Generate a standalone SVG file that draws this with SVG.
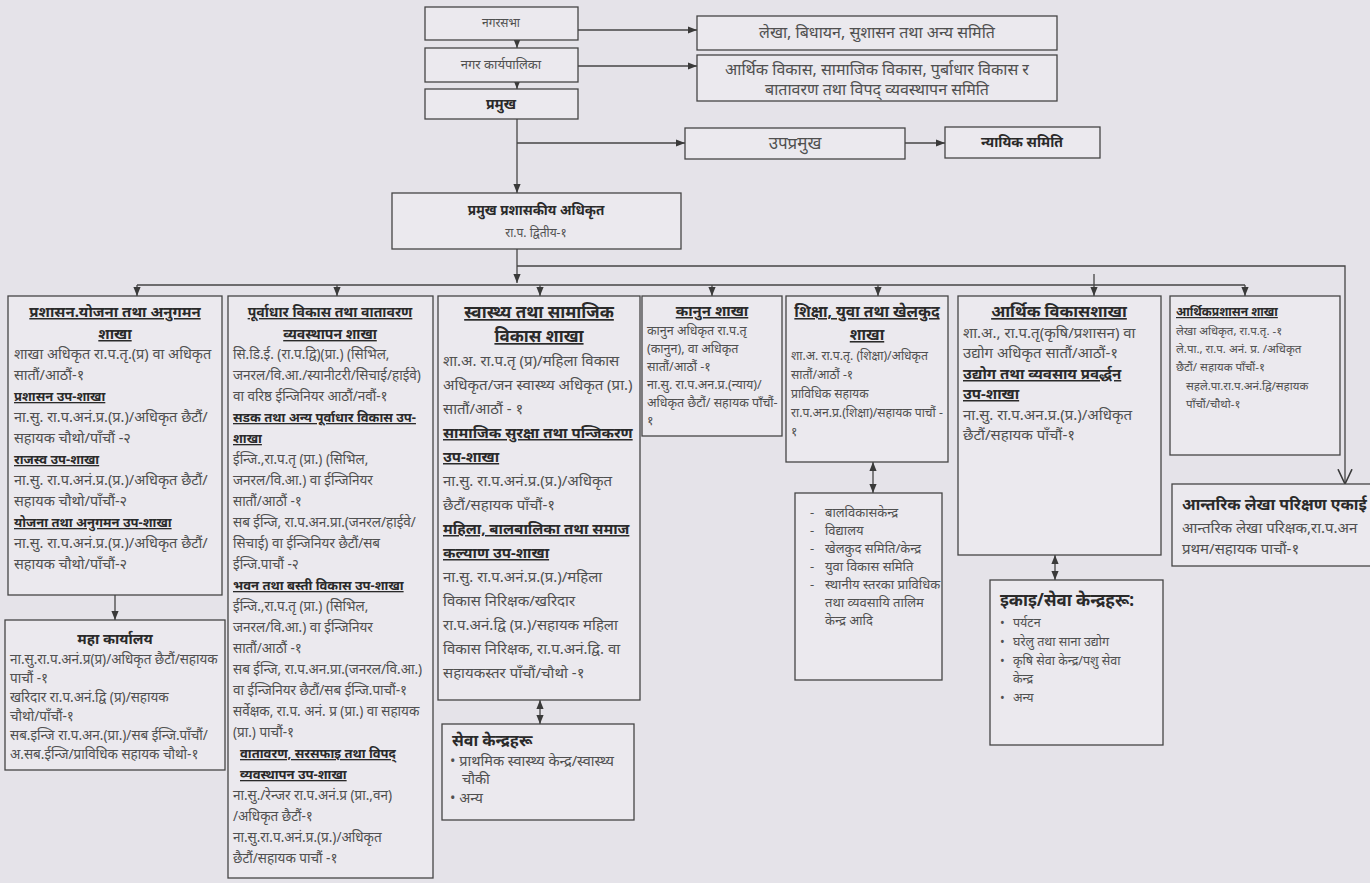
<svg xmlns="http://www.w3.org/2000/svg" width="1370" height="883" viewBox="0 0 1370 883">
<defs>
<marker id="ah" viewBox="0 0 10 10" refX="10" refY="5" markerWidth="7" markerHeight="7" orient="auto-start-reverse"><path d="M0,1 L10,5 L0,9 z" fill="#3a3a3a"/></marker>
<marker id="av" viewBox="0 0 10 10" refX="9.5" refY="5" markerWidth="12" markerHeight="12" orient="auto"><path d="M0,0.5 L9.5,5 L0,9.5" fill="none" stroke="#3a3a3a" stroke-width="1"/></marker>
</defs>
<style>
.bx{fill:#ebe9ee;stroke:#454545;stroke-width:1.3}
.ln{fill:none;stroke:#454545;stroke-width:1.3}
text{font-family:'Noto Sans','Liberation Sans',sans-serif;fill:#505050;font-size:11.5px}
.c{text-anchor:middle}
.ti{font-weight:bold;font-size:15px;fill:#2a2a2a;text-decoration:underline}
.sh{font-weight:bold;fill:#2a2a2a;text-decoration:underline}
.hb{font-weight:bold;fill:#2a2a2a}
.top{font-size:16px}
#b1 text{font-size:14.5px}
#b1 .ti{font-size:15px}
#b1 .sh{font-size:13px}
#maha text{font-size:13.5px}
#maha .hb{font-size:14.5px}
#b2 text{font-size:13.5px}
#b2 .ti{font-size:14px}
#b2 .sh{font-size:13px}
#b3 text{font-size:15px}
#b3 .ti{font-size:17px}
#b3s text{font-size:14.5px}
#b3s .hb{font-size:16px}
#b4 text{font-size:12.5px}
#b4 .ti{font-size:15px}
#b5 text{font-size:12.2px}
#b5 .ti{font-size:15.5px}
#b5s text{font-size:13px}
#b6 text{font-size:15px}
#b6 .ti{font-size:16.5px}
#b6s text{font-size:12.5px}
#b6s .hb{font-size:17px}
#b7 text{font-size:11.5px}
#b7 .sh{font-size:12px}
#audit text{font-size:15px}
#audit .hb{font-size:16px}
</style>
<rect width="1370" height="883" fill="#e5e3e9"/>

<g id="connectors">
<path class="ln" d="M517,40 V48" marker-end="url(#ah)"/>
<path class="ln" d="M517,82 V89" marker-end="url(#ah)"/>
<path class="ln" d="M578,30 H697" marker-end="url(#ah)"/>
<path class="ln" d="M578,66 H697" marker-end="url(#ah)"/>
<path class="ln" d="M517,119 V193" marker-end="url(#ah)"/>
<path class="ln" d="M517,143 H685" marker-end="url(#ah)"/>
<path class="ln" d="M905,143 H945" marker-end="url(#ah)"/>
<path class="ln" d="M517,249 V283" marker-end="url(#ah)"/>
<path class="ln" d="M517,266 H1345 V484" marker-end="url(#av)"/>
<path class="ln" d="M137,285 H1245"/>
<path class="ln" d="M137,285 V296" marker-end="url(#ah)"/>
<path class="ln" d="M337,285 V296" marker-end="url(#ah)"/>
<path class="ln" d="M540,285 V296" marker-end="url(#ah)"/>
<path class="ln" d="M712,285 V296" marker-end="url(#ah)"/>
<path class="ln" d="M878,285 V296" marker-end="url(#ah)"/>
<path class="ln" d="M1094,274 V296" marker-end="url(#ah)"/>
<path class="ln" d="M1245,285 V296" marker-end="url(#ah)"/>
<path class="ln" d="M115,595 V620" marker-end="url(#ah)"/>
<path class="ln" d="M540,700 V724" marker-start="url(#ah)" marker-end="url(#ah)"/>
<path class="ln" d="M873,462 V493" marker-start="url(#ah)" marker-end="url(#ah)"/>
<path class="ln" d="M1055,555 V580" marker-start="url(#ah)" marker-end="url(#ah)"/>
</g>

<g id="nagarsabha">
<rect class="bx" x="425" y="7" width="153" height="33"/>
<text class="c" x="501" y="27" style="font-size:12px">नगरसभा</text>
</g>
<g id="karyapalika">
<rect class="bx" x="425" y="48" width="153" height="34"/>
<text class="c" x="501" y="69" style="font-size:13px">नगर कार्यपालिका</text>
</g>
<g id="pramukh">
<rect class="bx" x="425" y="89" width="153" height="30"/>
<text class="c hb" x="501" y="109" style="font-size:14px">प्रमुख</text>
</g>
<g id="samiti1">
<rect class="bx" x="697" y="16" width="360" height="34"/>
<text class="c top" x="877" y="38">लेखा, बिधायन, सुशासन तथा अन्य समिति</text>
</g>
<g id="samiti2">
<rect class="bx" x="697" y="55" width="360" height="46"/>
<text class="c top" x="877" y="75">आर्थिक विकास, सामाजिक विकास, पुर्बाधार विकास र</text>
<text class="c top" x="877" y="95">बातावरण तथा विपद् व्यवस्थापन समिति</text>
</g>
<g id="upapramukh">
<rect class="bx" x="685" y="128" width="220" height="31"/>
<text class="c" x="795" y="149" style="font-size:17px">उपप्रमुख</text>
</g>
<g id="nyayik">
<rect class="bx" x="945" y="127" width="155" height="31"/>
<text class="c hb" x="1022" y="147" style="font-size:14px">न्यायिक समिति</text>
</g>
<g id="cao">
<rect class="bx" x="392" y="193" width="289" height="56"/>
<text class="c hb" x="536" y="215" style="font-size:13.5px">प्रमुख प्रशासकीय अधिकृत</text>
<text class="c" x="536" y="237" style="font-size:12px">रा.प. द्वितीय-१</text>
</g>

<g id="b1">
<rect class="bx" x="8" y="296" width="214" height="299"/>
<text class="c ti" x="115" y="317">प्रशासन.योजना तथा अनुगमन</text>
<text class="c ti" x="115" y="339">शाखा</text>
<text x="14" y="359">शाखा अधिकृत रा.प.तृ.(प्र) वा अधिकृत</text>
<text x="14" y="380">सातौं/आठौं-१</text>
<text class="sh" x="14" y="401">प्रशासन उप-शाखा</text>
<text x="14" y="422">ना.सु. रा.प.अनं.प्र.(प्र.)/अधिकृत छैटौं/</text>
<text x="14" y="443">सहायक चौथो/पाँचौं -२</text>
<text class="sh" x="14" y="464">राजस्व उप-शाखा</text>
<text x="14" y="485">ना.सु. रा.प.अनं.प्र.(प्र.)/अधिकृत छैटौं/</text>
<text x="14" y="506">सहायक चौथो/पाँचौं-२</text>
<text class="sh" x="14" y="527">योजना तथा अनुगमन उप-शाखा</text>
<text x="14" y="548">ना.सु. रा.प.अनं.प्र.(प्र.)/अधिकृत छैटौं/</text>
<text x="14" y="569">सहायक चौथो/पाँचौं-२</text>
</g>

<g id="maha">
<rect class="bx" x="5" y="620" width="220" height="150"/>
<text class="c hb" x="115" y="644">महा कार्यालय</text>
<text x="10" y="664">ना.सु.रा.प.अनं.प्र(प्र)/अधिकृत छैटौं/सहायक</text>
<text x="10" y="683">पाचौं -१</text>
<text x="10" y="702">खरिदार रा.प.अनं.द्वि (प्र)/सहायक</text>
<text x="10" y="721">चौथो/पाँचौं-१</text>
<text x="10" y="740">सब.इन्जि रा.प.अन.(प्रा.)/सब ईन्जि.पाँचौं/</text>
<text x="10" y="759">अ.सब.ईन्जि/प्राविधिक सहायक चौथो-१</text>
</g>

<g id="b2">
<rect class="bx" x="228" y="296" width="205" height="582"/>
<text class="c ti" x="330" y="317">पूर्वाधार विकास तथा वातावरण</text>
<text class="c ti" x="330" y="339">व्यवस्थापन शाखा</text>
<text x="233" y="359">सि.डि.ई. (रा.प.द्वि)(प्रा.) (सिभिल,</text>
<text x="233" y="380">जनरल/वि.आ./स्यानीटरी/सिचाई/हाईवे)</text>
<text x="233" y="401">वा वरिष्ठ ईन्जिनियर आठौं/नवौं-१</text>
<text class="sh" x="233" y="422">सडक तथा अन्य पूर्वाधार विकास उप-</text>
<text class="sh" x="233" y="443">शाखा</text>
<text x="233" y="464">ईन्जि.,रा.प.तृ (प्रा.) (सिभिल,</text>
<text x="233" y="485">जनरल/वि.आ.) वा ईन्जिनियर</text>
<text x="233" y="506">सातौं/आठौं -१</text>
<text x="233" y="527">सब ईन्जि, रा.प.अन.प्रा.(जनरल/हाईवे/</text>
<text x="233" y="548">सिचाई) वा ईन्जिनियर छैटौं/सब</text>
<text x="233" y="569">ईन्जि.पाचौं -२</text>
<text class="sh" x="233" y="590">भवन तथा बस्ती विकास उप-शाखा</text>
<text x="233" y="611">ईन्जि.,रा.प.तृ (प्रा.) (सिभिल,</text>
<text x="233" y="632">जनरल/वि.आ.) वा ईन्जिनियर</text>
<text x="233" y="653">सातौं/आठौं -१</text>
<text x="233" y="674">सब ईन्जि, रा.प.अन.प्रा.(जनरल/वि.आ.)</text>
<text x="233" y="695">वा ईन्जिनियर छैटौं/सब ईन्जि.पाचौं-१</text>
<text x="233" y="716">सर्वेक्षक, रा.प. अनं. प्र (प्रा.) वा सहायक</text>
<text x="233" y="737">(प्रा.) पाचौं-१</text>
<text class="sh" x="240" y="758">वातावरण, सरसफाइ तथा विपद्</text>
<text class="sh" x="240" y="779">व्यवस्थापन उप-शाखा</text>
<text x="233" y="800">ना.सु./रेन्जर रा.प.अनं.प्र (प्रा.,वन)</text>
<text x="233" y="821">/अधिकृत छैटौं-१</text>
<text x="233" y="842">ना.सु.रा.प.अनं.प्र.(प्र.)/अधिकृत</text>
<text x="233" y="863">छैटौं/सहायक पाचौं -१</text>
</g>

<g id="b3">
<rect class="bx" x="438" y="296" width="202" height="404"/>
<text class="c ti" x="539" y="318">स्वास्थ्य तथा सामाजिक</text>
<text class="c ti" x="539" y="342">विकास शाखा</text>
<text x="443" y="366">शा.अ. रा.प.तृ (प्र)/महिला विकास</text>
<text x="443" y="390">अधिकृत/जन स्वास्थ्य अधिकृत (प्रा.)</text>
<text x="443" y="414">सातौं/आठौं - १</text>
<text class="sh" x="443" y="438">सामाजिक सुरक्षा तथा पन्जिकरण</text>
<text class="sh" x="443" y="462">उप-शाखा</text>
<text x="443" y="486">ना.सु. रा.प.अनं.प्र.(प्र.)/अधिकृत</text>
<text x="443" y="510">छैटौं/सहायक पाँचौं-१</text>
<text class="sh" x="443" y="534">महिला, बालबालिका तथा समाज</text>
<text class="sh" x="443" y="558">कल्याण उप-शाखा</text>
<text x="443" y="582">ना.सु. रा.प.अनं.प्र.(प्र.)/महिला</text>
<text x="443" y="606">विकास निरिक्षक/खरिदार</text>
<text x="443" y="630">रा.प.अनं.द्वि (प्र.)/सहायक महिला</text>
<text x="443" y="654">विकास निरिक्षक, रा.प.अनं.द्वि. वा</text>
<text x="443" y="678">सहायकस्तर पाँचौं/चौथो -१</text>
</g>

<g id="b3s">
<rect class="bx" x="442" y="724" width="192" height="96"/>
<text class="hb" x="452" y="746">सेवा केन्द्रहरू</text>
<text x="450" y="766">• प्राथमिक स्वास्थ्य केन्द्र/स्वास्थ्य</text>
<text x="462" y="784">चौकी</text>
<text x="450" y="803">• अन्य</text>
</g>

<g id="b4">
<rect class="bx" x="642" y="296" width="140" height="140"/>
<text class="c ti" x="712" y="316">कानुन शाखा</text>
<text x="647" y="335">कानुन अधिकृत रा.प.तृ</text>
<text x="647" y="353">(कानुन), वा अधिकृत</text>
<text x="647" y="371">सातौं/आठौं -१</text>
<text x="647" y="389">ना.सु. रा.प.अन.प्र.(न्याय)/</text>
<text x="647" y="407">अधिकृत छैटौं/ सहायक पाँचौं-</text>
<text x="647" y="425">१</text>
</g>

<g id="b5">
<rect class="bx" x="786" y="296" width="162" height="166"/>
<text class="c ti" x="867" y="317">शिक्षा, युवा तथा खेलकुद</text>
<text class="c ti" x="867" y="340">शाखा</text>
<text x="791" y="360">शा.अ. रा.प.तृ. (शिक्षा)/अधिकृत</text>
<text x="791" y="379">सातौं/आठौं -१</text>
<text x="791" y="398">प्राविधिक सहायक</text>
<text x="791" y="417">रा.प.अन.प्र.(शिक्षा)/सहायक पाचौं -</text>
<text x="791" y="436">१</text>
</g>

<g id="b5s">
<rect class="bx" x="795" y="493" width="147" height="187"/>
<text x="810" y="517">-</text><text x="825" y="517">बालविकासकेन्द्र</text>
<text x="810" y="535">-</text><text x="825" y="535">विद्यालय</text>
<text x="810" y="553">-</text><text x="825" y="553">खेलकुद समिति/केन्द्र</text>
<text x="810" y="571">-</text><text x="825" y="571">युवा विकास समिति</text>
<text x="810" y="589">-</text><text x="825" y="589">स्थानीय स्तरका प्राविधिक</text>
<text x="825" y="607">तथा व्यवसायि तालिम</text>
<text x="825" y="625">केन्द्र आदि</text>
</g>

<g id="b6">
<rect class="bx" x="958" y="296" width="203" height="259"/>
<text class="c ti" x="1059" y="317">आर्थिक विकासशाखा</text>
<text x="963" y="338">शा.अ., रा.प.तृ(कृषि/प्रशासन) वा</text>
<text x="963" y="358">उद्योग अधिकृत सातौं/आठौं-१</text>
<text class="sh" x="963" y="379">उद्योग तथा व्यवसाय प्रवर्द्धन</text>
<text class="sh" x="963" y="399">उप-शाखा</text>
<text x="963" y="420">ना.सु. रा.प.अन.प्र.(प्र.)/अधिकृत</text>
<text x="963" y="440">छैटौं/सहायक पाँचौं-१</text>
</g>

<g id="b6s">
<rect class="bx" x="990" y="580" width="173" height="165"/>
<text class="hb" x="1000" y="606">इकाइ/सेवा केन्द्रहरू:</text>
<text x="1000" y="627">•</text><text x="1013" y="627">पर्यटन</text>
<text x="1000" y="646">•</text><text x="1013" y="646">घरेलु तथा साना उद्योग</text>
<text x="1000" y="665">•</text><text x="1013" y="665">कृषि सेवा केन्द्र/पशु सेवा</text>
<text x="1013" y="683">केन्द्र</text>
<text x="1000" y="702">•</text><text x="1013" y="702">अन्य</text>
</g>

<g id="b7">
<rect class="bx" x="1170" y="296" width="170" height="159"/>
<text class="sh" x="1176" y="316">आर्थिकप्रशासन शाखा</text>
<text x="1176" y="335">लेखा अधिकृत, रा.प.तृ. -१</text>
<text x="1176" y="353">ले.पा., रा.प. अनं. प्र. /अधिकृत</text>
<text x="1176" y="371">छैटौं/ सहायक पाँचौं-१</text>
<text x="1186" y="390">सहले.पा.रा.प.अनं.द्वि/सहायक</text>
<text x="1186" y="408">पाँचौं/चौथो-१</text>
</g>

<g id="audit">
<rect class="bx" x="1172" y="484" width="210" height="82"/>
<text class="hb" x="1182" y="510">आन्तरिक लेखा परिक्षण एकाई</text>
<text x="1182" y="533">आन्तरिक लेखा परिक्षक,रा.प.अन</text>
<text x="1182" y="554">प्रथम/सहायक पाचौं-१</text>
</g>
</svg>
